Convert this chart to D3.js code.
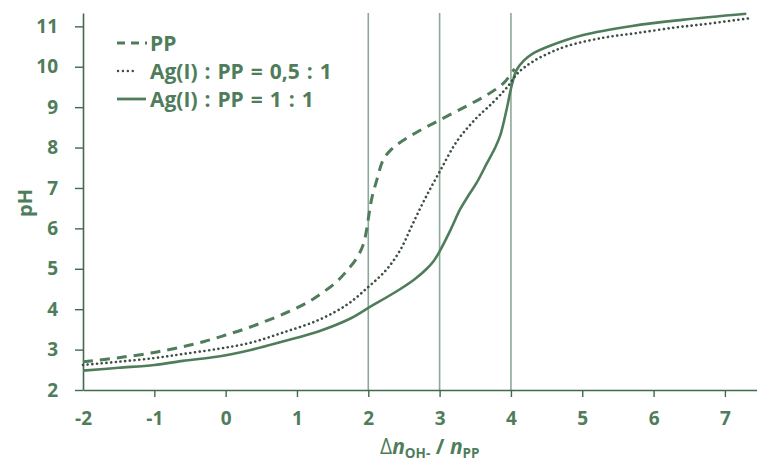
<!DOCTYPE html>
<html><head><meta charset="utf-8">
<script src="https://cdn.jsdelivr.net/npm/d3@7"></script>
<style>body{margin:0;background:#fff}svg{display:block}</style>
</head><body>
<svg id="c" width="757" height="463"></svg>
<script>
const xTicks = [-2,-1,0,1,2,3,4,5,6,7];
const yTicks = [2,3,4,5,6,7,8,9,10,11];
const eqLines = [2,3,4];
const legendLabels = ["PP", "Ag(I) : PP = 0,5 : 1", "Ag(I) : PP = 1 : 1"];

const ppX  = [-2,-1.5,-1,-0.6,-0.3,0,0.3,0.6,0.9,1.15,1.35,1.55,1.7,1.84,1.93,1.98,2.01,2.05,2.12,2.21,2.32,2.45,2.68,3.0,3.38,3.66,3.9,4.05];
const ppY  = [2.70,2.80,2.93,3.07,3.20,3.36,3.53,3.73,3.95,4.17,4.40,4.67,4.95,5.27,5.60,6.00,6.35,6.75,7.20,7.70,7.95,8.13,8.38,8.68,9.03,9.30,9.60,9.95];

const agHalfX = [-2,-1.5,-1,-0.6,-0.1,0.35,0.8,1.3,1.7,2.0,2.25,2.45,2.62,2.8,3.0,3.24,3.5,3.75,3.95,4.1,4.3,4.55,4.8,5.3,5.75,6.3,6.7,7.35];
const agHalfY = [2.62,2.70,2.79,2.89,3.02,3.17,3.42,3.73,4.11,4.55,4.97,5.47,6.10,6.75,7.40,8.15,8.70,9.12,9.50,9.85,10.12,10.35,10.52,10.72,10.83,10.97,11.05,11.20];

const agOneX = [-2,-1.5,-1,-0.6,-0.1,0.35,0.8,1.3,1.75,2.0,2.45,2.65,2.82,2.92,3.0,3.15,3.29,3.4,3.52,3.66,3.78,3.85,3.94,4.01,4.08,4.18,4.3,4.55,5.0,5.7,6.4,7.3];
const agOneY = [2.48,2.55,2.62,2.72,2.83,2.99,3.20,3.45,3.77,4.03,4.50,4.74,5.00,5.20,5.43,5.95,6.48,6.80,7.13,7.60,8.00,8.30,8.95,9.53,9.92,10.15,10.32,10.52,10.78,11.01,11.16,11.31];

const green = "#4f7d5b";
const svg = d3.select("#c");
const x = d3.scaleLinear().domain([-2, 7.45]).range([83, 757]);
const y = d3.scaleLinear().domain([2, 11.33]).range([390, 13]);

// equivalence lines
svg.selectAll(".eq").data(eqLines).enter().append("line")
  .attr("x1", d => x(d)).attr("x2", d => x(d))
  .attr("y1", y(2)).attr("y2", y(11.33))
  .attr("stroke", "#8ca896").attr("stroke-width", 1.6);

// axes
const font = "'Open Sans', Lato, sans-serif";
const xAxis = svg.append("g").attr("transform", `translate(0,${y(2)})`)
  .call(d3.axisBottom(x).tickValues(xTicks).tickFormat(d => String(d)).tickSize(7).tickPadding(15).tickSizeOuter(0));
const yAxis = svg.append("g").attr("transform", `translate(${x(-2)},0)`)
  .call(d3.axisLeft(y).tickValues(yTicks).tickFormat(d => String(d)).tickSize(8).tickPadding(17).tickSizeOuter(0));
[xAxis, yAxis].forEach(g => {
  g.select(".domain").attr("stroke", "#3f6a4b").attr("stroke-width", 1.6);
  g.selectAll(".tick line").attr("stroke", "#3f6a4b").attr("stroke-width", 1.4);
  g.selectAll(".tick text").attr("fill", green).attr("font-family", font)
    .attr("font-weight", "bold").attr("font-size", 19);
});
xAxis.selectAll(".tick").filter(d => d === -2).select("line").remove();

// curves
const line = d3.line().x(d => x(d[0])).y(d => y(d[1])).curve(d3.curveCatmullRom.alpha(0.5));
const zip = (a, b) => a.map((v, i) => [v, b[i]]);
svg.append("path").datum(zip(agOneX, agOneY)).attr("d", line)
  .attr("fill", "none").attr("stroke", green).attr("stroke-width", 2.6);
svg.append("path").datum(zip(agHalfX, agHalfY)).attr("d", line)
  .attr("fill", "none").attr("stroke", "#3d4f44").attr("stroke-width", 2.6)
  .attr("stroke-dasharray", "0.1 4.6").attr("stroke-linecap", "round");
svg.append("path").datum(zip(ppX, ppY)).attr("d", line)
  .attr("fill", "none").attr("stroke", green).attr("stroke-width", 3)
  .attr("stroke-dasharray", "10 7");

// legend
const ly = [43, 71, 99];
const lg = svg.append("g");
lg.append("line").attr("x1", 117).attr("x2", 147).attr("y1", ly[0]).attr("y2", ly[0])
  .attr("stroke", green).attr("stroke-width", 3).attr("stroke-dasharray", "8 6");
lg.append("line").attr("x1", 118).attr("x2", 137).attr("y1", ly[1]).attr("y2", ly[1])
  .attr("stroke", "#3d4f44").attr("stroke-width", 2.4).attr("stroke-dasharray", "0.1 4.8").attr("stroke-linecap", "round");
lg.append("line").attr("x1", 117).attr("x2", 146).attr("y1", ly[2]).attr("y2", ly[2])
  .attr("stroke", green).attr("stroke-width", 2.8);
lg.selectAll("text").data(legendLabels).enter().append("text")
  .attr("x", 150).attr("y", (d, i) => ly[i] + 7.5)
  .attr("fill", green).attr("font-family", font).attr("font-weight", "bold").attr("font-size", 21)
  .attr("word-spacing", 1.5)
  .text(d => d);

// axis titles
svg.append("text").attr("transform", "translate(32,203) rotate(-90)")
  .attr("text-anchor", "middle").attr("fill", green).attr("font-family", font)
  .attr("font-weight", "bold").attr("font-size", 20).text("pH");

const xt = svg.append("text").attr("x", 380).attr("y", 454)
  .attr("fill", green).attr("font-family", font).attr("font-size", 21);
xt.append("tspan").text("Δ");
xt.append("tspan").attr("font-style", "italic").attr("font-weight", "bold").text("n");
xt.append("tspan").attr("font-size", 13.5).attr("font-weight", "bold").attr("dy", 4).text("OH-");
xt.append("tspan").attr("dy", -4).attr("font-weight", "bold").text(" / ");
xt.append("tspan").attr("font-style", "italic").attr("font-weight", "bold").text("n");
xt.append("tspan").attr("font-size", 13.5).attr("font-weight", "bold").attr("dy", 4).text("PP");
</script>
</body></html>
